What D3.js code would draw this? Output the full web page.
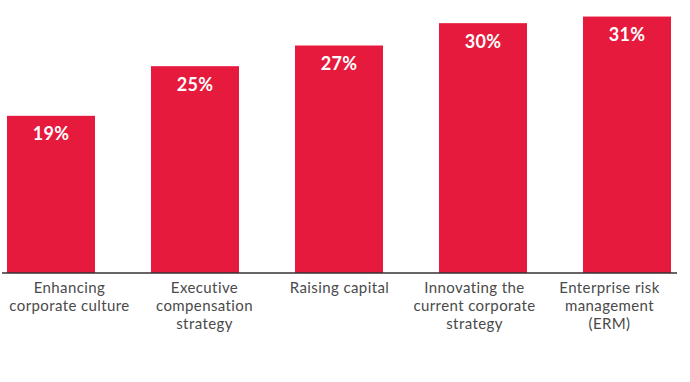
<!DOCTYPE html>
<html>
<head>
<meta charset="utf-8">
<script src="https://cdn.jsdelivr.net/npm/d3@7"></script>
<style>
  html, body { margin: 0; padding: 0; background: #fff; }
  svg { display: block; }
</style>
</head>
<body>
<svg id="chart" width="690" height="382"></svg>
<script>
const categories = [
  ["Enhancing", "corporate culture"],
  ["Executive", "compensation", "strategy"],
  ["Raising capital"],
  ["Innovating the", "current corporate", "strategy"],
  ["Enterprise risk", "management", "(ERM)"]
];
const values = [19, 25, 27.5, 30.2, 31];
const valueLabels = ["19%", "25%", "27%", "30%", "31%"];

const svg = d3.select("#chart");
const keys = categories.map((d, i) => i);

const x = d3.scaleBand()
  .domain(keys)
  .range([7, 671])
  .paddingInner(56 / 144)
  .paddingOuter(0);

// category labels sit on their own, slightly narrower spacing
const xLabel = d3.scalePoint()
  .domain(keys)
  .range([69.5, 609.5]);

const y = d3.scaleLinear().domain([0, 33]).range([273, 0]);

const red = "#E61A3C";

svg.selectAll("rect.bar")
  .data(values)
  .join("rect")
  .attr("class", "bar")
  .attr("x", (d, i) => x(i))
  .attr("width", x.bandwidth())
  .attr("y", d => y(d))
  .attr("height", d => y(0) - y(d))
  .attr("fill", red);

svg.selectAll("text.val")
  .data(values)
  .join("text")
  .attr("class", "val")
  .attr("x", (d, i) => x(i) + x.bandwidth() / 2)
  .attr("y", d => y(d) + 24.5)
  .attr("text-anchor", "middle")
  .attr("font-family", "Lato, 'Open Sans', sans-serif")
  .attr("font-weight", 700)
  .attr("font-size", 18)
  .attr("letter-spacing", 0.3)
  .attr("fill", "#fff")
  .text((d, i) => valueLabels[i]);

// axis
const axis = d3.axisBottom(x).tickSize(0).tickFormat("");
const g = svg.append("g").attr("transform", `translate(0,${y(0)})`).call(axis);
g.select(".domain").remove();
g.append("line")
  .attr("x1", 2).attr("x2", 677)
  .attr("y1", 0).attr("y2", 0)
  .attr("stroke", "#333").attr("stroke-width", 1.3);

const labels = svg.selectAll("text.cat")
  .data(categories)
  .join("text")
  .attr("class", "cat")
  .attr("text-anchor", "middle")
  .attr("font-family", "Lato, 'Open Sans', sans-serif")
  .attr("font-size", 15)
  .attr("letter-spacing", 0.4)
  .attr("fill", "#4a4a4a")
  .attr("transform", (d, i) => `translate(${xLabel(i)},${y(0) + 20})`);

labels.selectAll("tspan")
  .data(d => d)
  .join("tspan")
  .attr("x", 0)
  .attr("dy", (d, j) => j === 0 ? 0 : 18)
  .text(d => d);
</script>
</body>
</html>
